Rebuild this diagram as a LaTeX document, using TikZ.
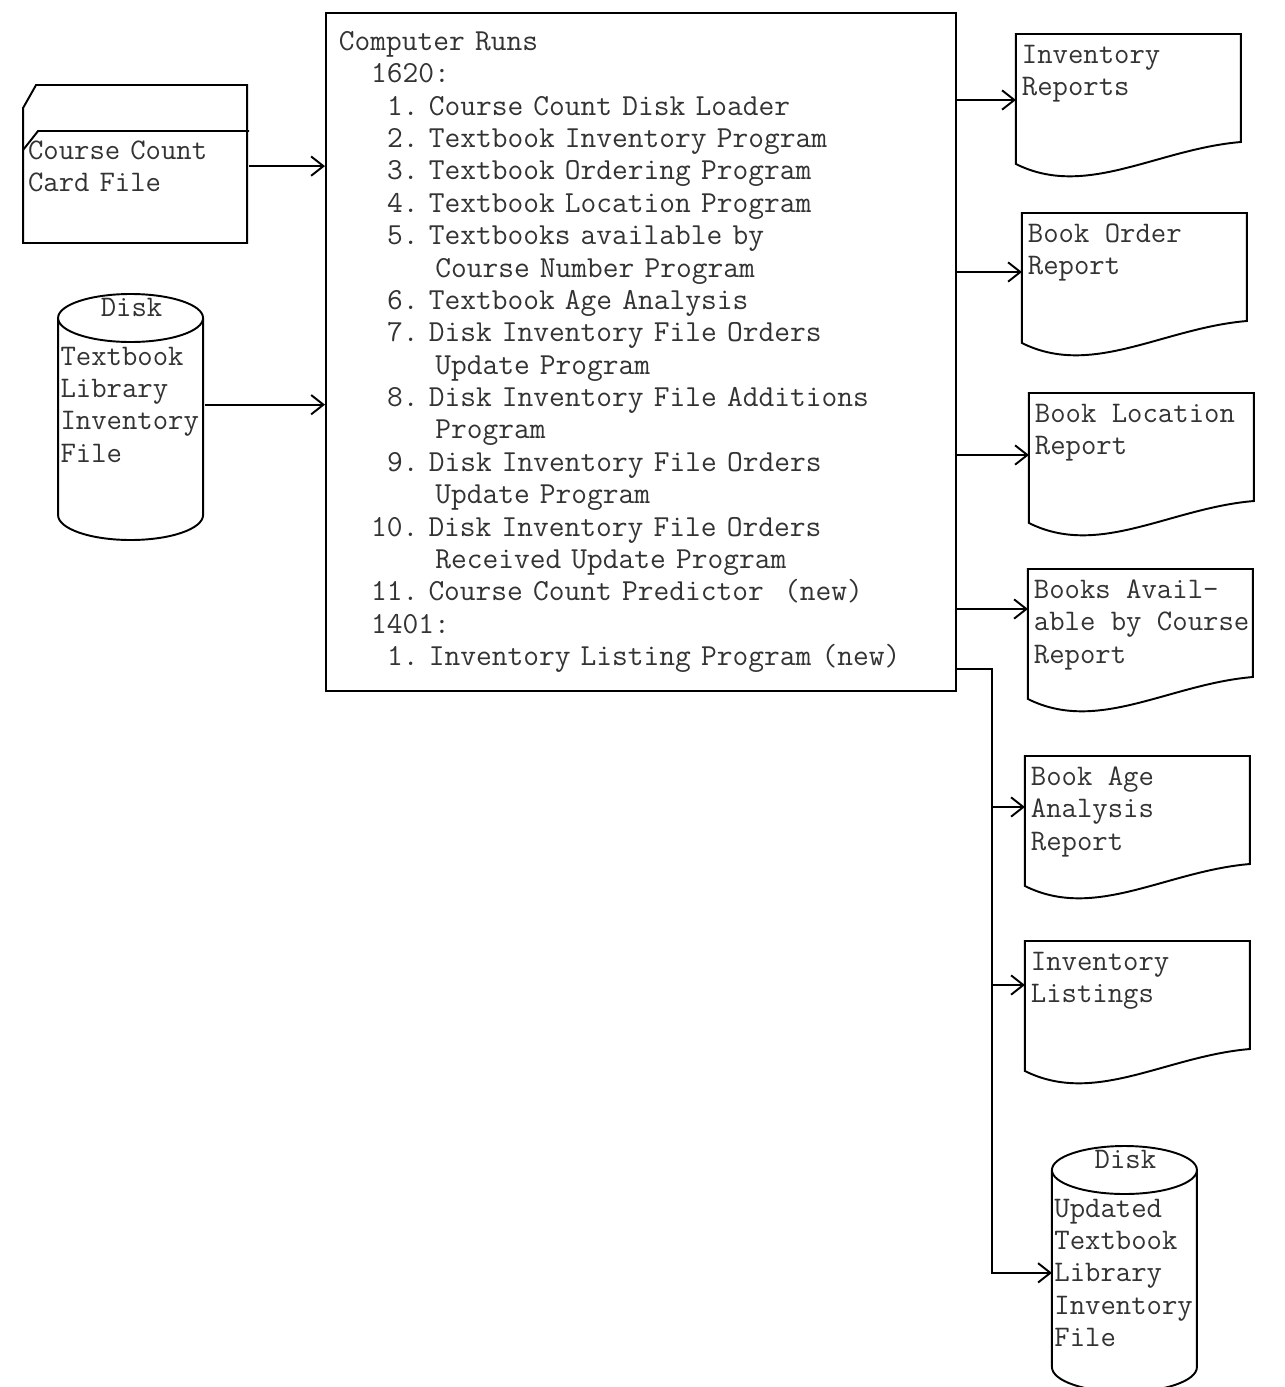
\documentclass[tikz,border=0pt]{standalone}
\usepackage{tikz}
\usetikzlibrary{positioning, calc, arrows.meta}

\newcommand{\colsp}[1]{\hspace*{#1\dimexpr0.525em\relax}}

\begin{document}
\begin{tikzpicture}[>={Straight Barb[length=7pt,width=11pt]}, line width=1.1pt]
        \tikzset{
            program/.style={rectangle, draw, align=left, text width=12.08cm, minimum height=13.56cm, inner xsep=0.26cm, text=black!80, font=\ttfamily\fontsize{17.4}{18.42}\selectfont\frenchspacing},
            cardfile/.style={align=left, text width=4.32cm, inner xsep=0.08cm, inner ysep=0.17cm, text=black!80, font=\ttfamily\fontsize{17}{18.4}\selectfont},
            diskfile/.style={align=left, text width=2.84cm, inner xsep=0.03cm, inner ysep=0.08cm, text=black!80, font=\ttfamily\fontsize{17}{18.4}\selectfont},
            disklbl/.style={inner sep=0pt, yshift=0.48cm, text=black!80, font=\ttfamily\fontsize{17}{18.4}\selectfont},
            report/.style={align=left, inner xsep=0.1cm, inner ysep=0.2cm, text=black!80, font=\ttfamily\fontsize{17}{18.4}\selectfont}
        }
        \path[use as bounding box, fill=white] (0,0) rectangle (25.7,-27.74);

        \node[program, anchor=north west] (runs) at (6.5,-0.24) {Computer Runs\\
            \colsp{2}1620:\\
            \colsp{3}1. Course Count Disk Loader\\
            \colsp{3}2. Textbook Inventory Program\\
            \colsp{3}3. Textbook Ordering Program\\
            \colsp{3}4. Textbook Location Program\\
            \colsp{3}5. Textbooks available by\\
            \colsp{6}Course Number Program\\
            \colsp{3}6. Textbook Age Analysis\\
            \colsp{3}7. Disk Inventory File Orders\\
            \colsp{6}Update Program\\
            \colsp{3}8. Disk Inventory File Additions\\
            \colsp{6}Program\\
            \colsp{3}9. Disk Inventory File Orders\\
            \colsp{6}Update Program\\
            \colsp{2}10. Disk Inventory File Orders\\
            \colsp{6}Received Update Program\\
            \colsp{2}11. Course Count Predictor\ \ (new)\\
            \colsp{2}1401:\\
            \colsp{3}1. Inventory Listing Program (new)};

        % inputs
        \node[cardfile, left=1.52cm of runs.north west, anchor=north east, yshift=-2.38cm] (card) {Course Count\\Card File};
        \node[diskfile, left=2.4cm of runs.north west, anchor=north east, yshift=-6.6cm, label={[disklbl]above:Disk}] (libdisk) {Textbook\\Library\\Inventory\\File};

        % outputs
        \node[report, right=1.18cm of runs.north east, anchor=north west, yshift=-0.44cm] (invrep) {Inventory\\Reports};
        \node[report, below=3.58cm of invrep.north west, anchor=north west, xshift=0.12cm] (ordrep) {Book Order\\Report};
        \node[report, below=3.6cm of ordrep.north west, anchor=north west, xshift=0.14cm] (locrep) {Book Location\\Report};
        \node[report, below=3.52cm of locrep.north west, anchor=north west, xshift=-0.02cm] (availrep) {Books Avail-\\able by Course\\Report};
        \node[report, below=3.74cm of availrep.north west, anchor=north west, xshift=-0.06cm] (agerep) {Book Age\\Analysis\\Report};
        \node[report, below=3.7cm of agerep.north west, anchor=north west] (listrep) {Inventory\\Listings};
        \node[diskfile, below=5.06cm of listrep.north west, anchor=north west, xshift=0.54cm, label={[disklbl]above:Disk}] (upddisk) {Updated\\Textbook\\Library\\Inventory\\File};

        % outlines
        \draw ($(card.north west)+(0,-2.24)$) -- ++(0,2.7) -- ++(0.26,0.46) -- ++(4.22,0) -- ++(0,-3.16) -- cycle;
        \draw ($(card.north west)+(0,-0.38)$) -- ++(0.3,0.38) -- (card.north east);
        \foreach \n in {libdisk,upddisk}
            \draw ($(\n.north west)+(0,0.48)$) arc[start angle=180, end angle=0, x radius=1.45cm, y radius=0.48cm]
                arc[start angle=0, end angle=-180, x radius=1.45cm, y radius=0.48cm]
                -- ++(0,-3.94) arc[start angle=180, end angle=360, x radius=1.45cm, y radius=0.5cm] -- ++(0,3.94);
        \foreach \n in {invrep,ordrep,locrep,availrep,agerep,listrep}
            \draw (\n.north west) -- ++(4.5,0) -- ++(0,-2.16)
                .. controls ($(\n.north west)+(2.82,-2.3)$) and ($(\n.north west)+(1.4,-3.3)$) .. ($(\n.north west)+(0,-2.6)$) -- cycle;

        % connectors
        \draw[->] (card.east) -- (runs.west |- card.east);
        \draw[->] (libdisk.east) -- (runs.west |- libdisk.east);
        \foreach \n/\d in {invrep/1.32, ordrep/1.18, locrep/1.24, availrep/0.8, agerep/1.02, listrep/0.88}
            \coordinate (\n-in) at ($(\n.north west)+(0,-\d)$);
        \foreach \n in {invrep,ordrep,locrep,availrep}
            \draw[->] (runs.east |- \n-in) -- (\n-in);
        \coordinate (fork) at ($(runs.south east)+(0.7,0.46)$);
        \draw[->] (runs.east |- fork) -- (fork) |- (upddisk.west);
        \foreach \n in {agerep,listrep}
            \draw[->] (fork |- \n-in) -- (\n-in);

    \end{tikzpicture}
\end{document}
